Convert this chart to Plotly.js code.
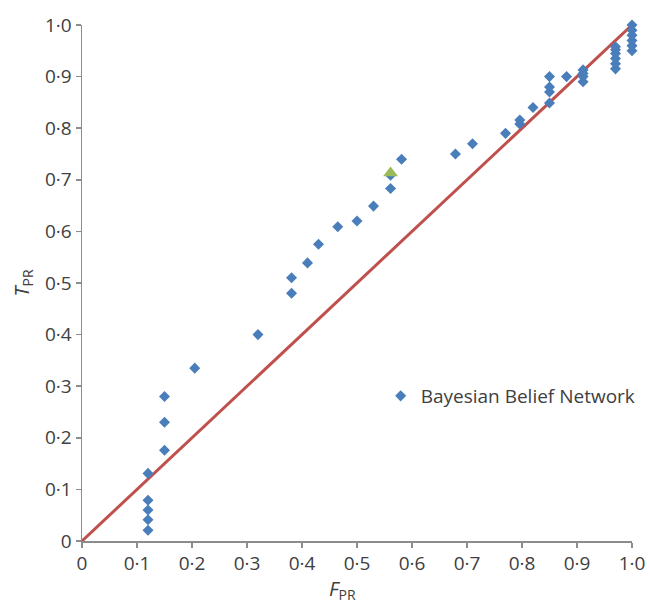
<!DOCTYPE html>
<html>
<head>
<meta charset="utf-8">
<script src="https://cdn.plot.ly/plotly-3.0.1.min.js"></script>
<style>html,body{margin:0;padding:0;background:#fff;}#chart{width:650px;height:606px;}</style>
</head>
<body>
<div id="chart"></div>
<script>
// Bayesian Belief Network ROC points (false positive rate, true positive rate)
var bbnFPR = [0.12, 0.12, 0.12, 0.12, 0.12,
              0.15, 0.15, 0.15,
              0.205, 0.32, 0.381, 0.381, 0.41, 0.43, 0.465, 0.50, 0.53, 0.561, 0.561, 0.581,
              0.679, 0.71, 0.77, 0.796, 0.796, 0.82,
              0.85, 0.85, 0.85, 0.85, 0.881,
              0.911, 0.911, 0.911, 0.911,
              0.97, 0.97, 0.97, 0.97, 0.97, 0.97,
              1.0, 1.0, 1.0, 1.0, 1.0, 1.0];
var bbnTPR = [0.021, 0.041, 0.060, 0.079, 0.131,
              0.176, 0.230, 0.280,
              0.335, 0.400, 0.480, 0.510, 0.539, 0.575, 0.609, 0.620, 0.649, 0.683, 0.709, 0.740,
              0.750, 0.770, 0.790, 0.808, 0.816, 0.840,
              0.849, 0.870, 0.880, 0.900, 0.900,
              0.890, 0.900, 0.906, 0.913,
              0.915, 0.925, 0.935, 0.945, 0.952, 0.958,
              0.950, 0.960, 0.970, 0.980, 0.990, 1.000];
// highlighted point (green triangle)
var selFPR = [0.561];
var selTPR = [0.713];
// reference diagonal
var diagX = [0, 1];
var diagY = [0, 1];
// ticks
var tickVals = [0, 0.1, 0.2, 0.3, 0.4, 0.5, 0.6, 0.7, 0.8, 0.9, 1.0];
var tickText = ['0', '0·1', '0·2', '0·3', '0·4', '0·5', '0·6', '0·7', '0·8', '0·9', '1·0'];
var xTitle = '<i>F</i><sub>PR</sub>';
var yTitle = '<i>T</i><sub>PR</sub>';

var font = 'Open Sans, DejaVu Sans, sans-serif';
var txtColor = '#404040';
var axisColor = '#8c8c8c';

var traces = [
  {x: diagX, y: diagY, mode: 'lines', type: 'scatter', showlegend: false,
   line: {color: '#C0504D', width: 3}, hoverinfo: 'skip'},
  {x: bbnFPR, y: bbnTPR, mode: 'markers', type: 'scatter', name: 'Bayesian Belief Network',
   marker: {symbol: 'diamond', size: 8.5, color: '#4A7EBB'}, cliponaxis: false},
  {x: selFPR, y: selTPR, mode: 'markers', type: 'scatter', showlegend: false,
   marker: {symbol: 'triangle-up', size: 13, color: '#9BBB59'}, cliponaxis: false}
];

var axisCommon = {
  range: [0, 1], tickvals: tickVals, ticktext: tickText, automargin: false,
  showgrid: false, zeroline: false, showline: true, linecolor: axisColor, linewidth: 1.5,
  ticks: 'outside', ticklen: 5, tickcolor: axisColor, tickwidth: 1.5,
  tickfont: {family: font, size: 19, color: txtColor}, fixedrange: true
};

var layout = {
  width: 650, height: 606,
  margin: {l: 82, r: 18, t: 25, b: 65, autoexpand: false},
  paper_bgcolor: '#ffffff', plot_bgcolor: '#ffffff',
  showlegend: true,
  legend: {x: 0.543, y: 0.281, xanchor: 'left', yanchor: 'middle',
           font: {family: font, size: 19, color: txtColor}, bgcolor: 'rgba(0,0,0,0)',
           itemwidth: 30, tracegroupgap: 0},
  xaxis: Object.assign({}, axisCommon),
  yaxis: Object.assign({}, axisCommon, {
    title: {text: yTitle, font: {family: font, size: 20, color: txtColor}, standoff: 10}
  }),
  annotations: [
    {text: xTitle, xref: 'paper', yref: 'paper', x: 0.473, y: -0.094,
     xanchor: 'center', yanchor: 'middle', showarrow: false,
     font: {family: font, size: 20, color: txtColor}}
  ]
};

Plotly.newPlot('chart', traces, layout, {displayModeBar: false, staticPlot: true});
</script>
</body>
</html>
